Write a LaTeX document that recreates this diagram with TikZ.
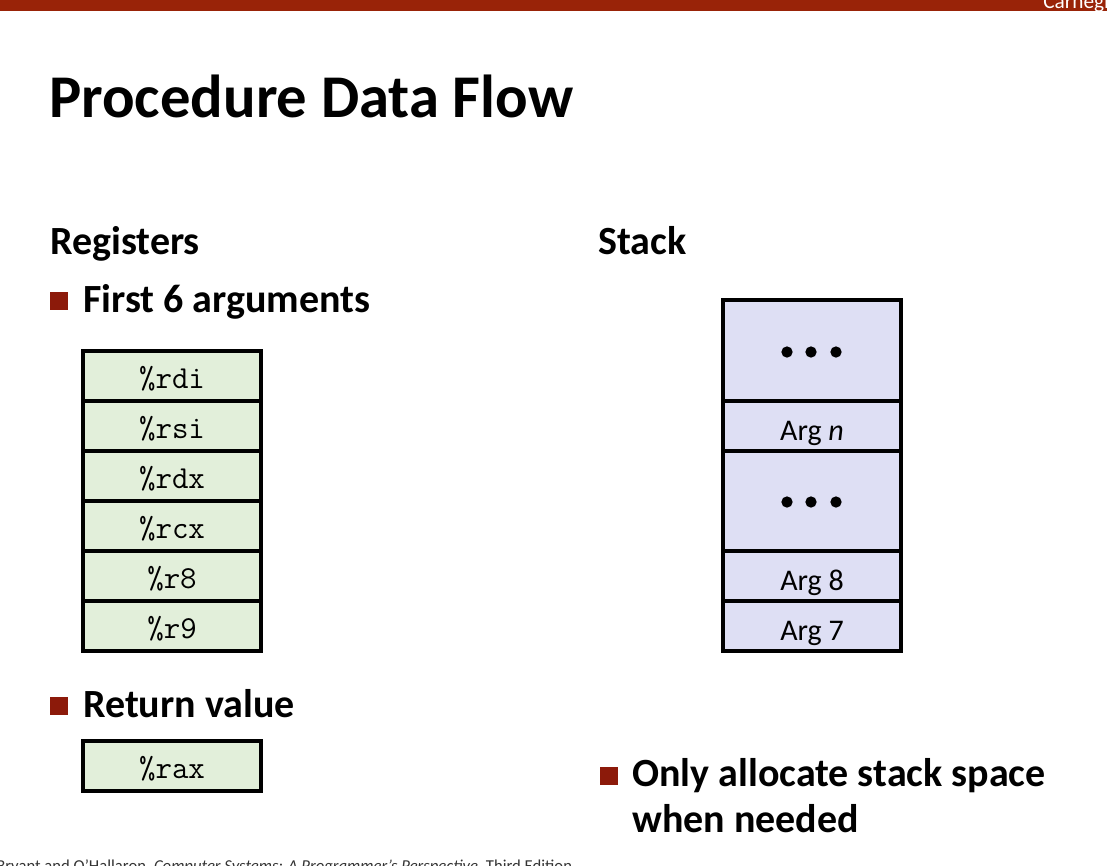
\documentclass[tikz,border=0pt]{standalone}
\usepackage{fontspec}
\setmainfont{Carlito}
\definecolor{barred}{RGB}{153,35,8}
\definecolor{reggreen}{RGB}{226,239,218}
\definecolor{stackblue}{RGB}{222,223,244}
\definecolor{bulletred}{RGB}{140,26,10}
\begin{document}
\begin{tikzpicture}[x=0.75pt,y=-0.75pt,
  regbox/.style={draw=black,line width=2.3pt,fill=reggreen,minimum width=178*0.75pt,minimum height=50*0.75pt,inner sep=0pt,text height=18pt,text depth=0pt,font=\ttfamily\fontsize{24}{26}\selectfont},
  stkbox/.style={draw=black,line width=2.3pt,fill=stackblue,minimum width=178*0.75pt,inner sep=0pt,text height=22pt,text depth=0pt,font=\fontsize{22.5}{24}\selectfont},
  heading/.style={anchor=base west,inner sep=0pt,font=\bfseries\fontsize{30}{34}\selectfont},
  bul/.style={fill=bulletred,minimum size=13.5pt,inner sep=0pt},
  dot/.style={circle,fill=black,minimum size=8.5pt,inner sep=0pt}]
\useasboundingbox (0,0) rectangle (1107,865);
\clip (0,0) rectangle (1107,865);
\fill[barred] (0,0) rectangle (1107,11);
\node[anchor=base west,inner sep=0pt,text=white,font=\fontsize{16}{18}\selectfont] (cmu) at (1043,8) {Carnegie Mellon};
\node[anchor=base west,inner sep=0pt,font=\bfseries\fontsize{45.5}{52}\selectfont] (title) at (49,117) {Procedure Data Flow};
\node[heading] (regs) at (50,254) {Registers};
\node[heading] (stack) at (598,254) {Stack};
\node[bul] (b1) at (59,301) {};
\node[heading] (first) at (83,312) {First 6 arguments};
\node[regbox] (rdi) at (172,376) {\%rdi};
\node[regbox] (rsi) at (172,426) {\%rsi};
\node[regbox] (rdx) at (172,476) {\%rdx};
\node[regbox] (rcx) at (172,526) {\%rcx};
\node[regbox] (r8) at (172,576) {\%r8};
\node[regbox] (r9) at (172,626) {\%r9};
\node[bul] (b2) at (59,706) {};
\node[heading] (ret) at (83,717) {Return value};
\node[regbox] (rax) at (172,766) {\%rax};
\node[stkbox,minimum height=101*0.75pt] (s1) at (812,350.5) {};
\node[stkbox,minimum height=50*0.75pt] (s2) at (812,426) {Arg \textit{n}};
\node[stkbox,minimum height=100*0.75pt] (s3) at (812,501) {};
\node[stkbox,minimum height=50*0.75pt] (s4) at (812,576) {Arg 8};
\node[stkbox,minimum height=50*0.75pt] (s5) at (812,626) {Arg 7};
\node[dot] (d1) at (787,352) {};
\node[dot] (d2) at (811,352) {};
\node[dot] (d3) at (836,352) {};
\node[dot] (d4) at (787,502) {};
\node[dot] (d5) at (811,502) {};
\node[dot] (d6) at (836,502) {};
\node[bul] (b3) at (609,776) {};
\node[anchor=base west,inner sep=0pt,align=left,font=\bfseries\fontsize{30}{34}\selectfont] (only) at (632,832) {Only allocate stack space\\when needed};
\node[anchor=base west,inner sep=0pt,text=black!80,font=\fontsize{12.5}{14}\selectfont] (foot) at (-4,871) {Bryant and O'Hallaron, \textit{Computer Systems: A Programmer's Perspective}, Third Edition};
\end{tikzpicture}
\end{document}
